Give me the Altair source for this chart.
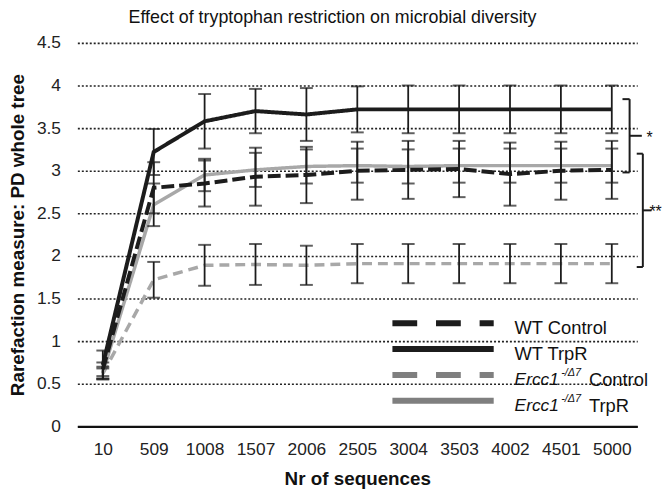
import altair as alt
import pandas as pd

# ---------------- data ----------------
seq_labels = ["10", "509", "1008", "1507", "2006", "2505", "3004", "3503", "4002", "4501", "5000"]

wt_control = [0.67, 2.80, 2.85, 2.93, 2.95, 3.00, 3.01, 3.02, 2.96, 3.00, 3.01]
wt_control_err = [0.08, 0.30, 0.27, 0.34, 0.33, 0.34, 0.34, 0.33, 0.37, 0.34, 0.34]
wt_trpr = [0.72, 3.22, 3.58, 3.70, 3.66, 3.72, 3.72, 3.72, 3.72, 3.72, 3.72]
wt_trpr_err = [0.17, 0.27, 0.32, 0.26, 0.31, 0.27, 0.28, 0.28, 0.28, 0.28, 0.28]
ercc_control = [0.62, 1.72, 1.89, 1.90, 1.89, 1.91, 1.91, 1.91, 1.91, 1.91, 1.91]
ercc_control_err = [0.06, 0.21, 0.24, 0.24, 0.23, 0.23, 0.23, 0.23, 0.23, 0.23, 0.23]
ercc_trpr = [0.63, 2.60, 2.95, 3.01, 3.05, 3.06, 3.05, 3.06, 3.06, 3.06, 3.06]
ercc_trpr_err = [0.07, 0.25, 0.19, 0.20, 0.20, 0.20, 0.20, 0.20, 0.20, 0.20, 0.20]

y_ticks = [0, 0.5, 1, 1.5, 2, 2.5, 3, 3.5, 4, 4.5]

# significance brackets: (top, bottom, label)
bracket_tops = [3.84, 3.20]
bracket_bottoms = [2.98, 1.87]
bracket_labels = ["*", "**"]

title_text = "Effect of tryptophan restriction on microbial diversity"
x_title = "Nr of sequences"
y_title = "Rarefaction measure: PD whole tree"

# ---------------- styles ----------------
FONT = "Liberation Sans"
BLACK = "#1c1c1c"
GRAY = "#a8a8a8"
LEG_GRAY = "#7f7f7f"

series = [
    # name, values, errs, color, dash, width
    ("Ercc1 Control", ercc_control, ercc_control_err, GRAY, [10, 6], 3.5),
    ("Ercc1 TrpR", ercc_trpr, ercc_trpr_err, GRAY, [1, 0], 3.5),
    ("WT Control", wt_control, wt_control_err, BLACK, [13, 5], 4),
    ("WT TrpR", wt_trpr, wt_trpr_err, BLACK, [1, 0], 4),
]

label_expr = "[" + ",".join("'" + s + "'" for s in seq_labels) + "][datum.value]"

x_scale = alt.Scale(domain=[-0.5, 10.5], nice=False, zero=False)
y_scale = alt.Scale(domain=[0, 4.5], nice=False, zero=True)

x_axis = alt.Axis(
    values=list(range(len(seq_labels))), labelExpr=label_expr, title=x_title,
    grid=False, ticks=False, domain=True, domainColor="#111", domainWidth=2.5,
    labelFont=FONT, labelFontSize=17.5, labelColor="#222", labelPadding=14,
    titleFont=FONT, titleFontSize=19, titleFontWeight="bold", titleColor="#111",
    titlePadding=12,
)
y_axis = alt.Axis(
    values=y_ticks, labelExpr="toString(datum.value)", title=y_title,
    grid=True, gridColor="#222", gridDash=[2, 2], gridWidth=1.6,
    ticks=False, domain=False,
    labelFont=FONT, labelFontSize=17.5, labelColor="#222", labelPadding=17,
    titleFont=FONT, titleFontSize=19, titleFontWeight="bold", titleColor="#111",
    titlePadding=9,
)


def X(field="x"):
    return alt.X(f"{field}:Q", scale=x_scale, axis=x_axis)


def Y(field="y"):
    return alt.Y(f"{field}:Q", scale=y_scale, axis=y_axis)


layers = []

# lines
for name, vals, errs, color, dash, width in series:
    df = pd.DataFrame({
        "x": list(range(len(vals))), "y": vals,
        "lo": [v - e for v, e in zip(vals, errs)],
        "hi": [v + e for v, e in zip(vals, errs)],
    })
    layers.append(
        alt.Chart(df).mark_line(color=color, strokeDash=dash, strokeWidth=width, strokeCap="butt")
        .encode(x=X(), y=Y())
    )

# error bars
for name, vals, errs, color, dash, width in series:
    df = pd.DataFrame({
        "x": list(range(len(vals))), "y": vals,
        "lo": [v - e for v, e in zip(vals, errs)],
        "hi": [v + e for v, e in zip(vals, errs)],
    })
    layers.append(
        alt.Chart(df).mark_rule(color=BLACK, strokeWidth=1.8)
        .encode(x=X(), y=Y("lo"), y2="hi:Q")
    )
    for end in ["lo", "hi"]:
        layers.append(
            alt.Chart(df).mark_tick(color=BLACK, orient="horizontal", size=13, thickness=2)
            .encode(x=X(), y=Y(end))
        )

# ---------------- custom legend ----------------
leg_y0, leg_step = 1.21, 0.303
leg_x1, leg_x2, leg_tx = 5.69, 7.68, 8.09
legend_rows = [
    ("WT Control", BLACK, [25, 19]),
    ("WT TrpR", BLACK, [1, 0]),
    ("Ercc1 Control", LEG_GRAY, [25, 19]),
    ("Ercc1 TrpR", LEG_GRAY, [1, 0]),
]
for i, (lab, color, dash) in enumerate(legend_rows):
    yy = leg_y0 - i * leg_step
    ldf = pd.DataFrame({"x": [leg_x1], "x2": [leg_x2], "y": [yy]})
    layers.append(
        alt.Chart(ldf).mark_rule(color=color, strokeDash=dash, strokeWidth=6, strokeCap="butt")
        .encode(x=X(), x2="x2:Q", y=Y())
    )
    tdf = pd.DataFrame({"x": [leg_tx], "y": [yy]})
    if lab.startswith("Ercc1"):
        rest = lab.split(" ", 1)[1]
        layers.append(
            alt.Chart(tdf).mark_text(text="Ercc1", font=FONT, fontSize=17.5, fontStyle="italic",
                                     align="left", baseline="middle", dy=5, color="#111")
            .encode(x=X(), y=Y())
        )
        layers.append(
            alt.Chart(tdf).mark_text(text="-/\u03947", font=FONT, fontSize=11, fontStyle="italic",
                                     align="left", baseline="middle", dx=47, dy=-2, color="#111")
            .encode(x=X(), y=Y())
        )
        layers.append(
            alt.Chart(tdf).mark_text(text=rest, font=FONT, fontSize=18.5,
                                     align="left", baseline="middle", dx=75, dy=5, color="#111")
            .encode(x=X(), y=Y())
        )
    else:
        layers.append(
            alt.Chart(tdf).mark_text(text=lab, font=FONT, fontSize=18.5,
                                     align="left", baseline="middle", dy=5, color="#111")
            .encode(x=X(), y=Y())
        )

# ---------------- significance brackets ----------------
br_x = [10.35, 10.61]
br_hook = [0.14, 0.12]
br_tick = [0.24, 0.17]
br_text_x = [10.68, 10.74]
for i in range(len(bracket_tops)):
    top, bot = bracket_tops[i], bracket_bottoms[i]
    mid = (top + bot) / 2
    vx = br_x[i]
    vdf = pd.DataFrame({"x": [vx], "y": [bot], "y2": [top]})
    layers.append(
        alt.Chart(vdf).mark_rule(color=BLACK, strokeWidth=2)
        .encode(x=X(), y=Y(), y2="y2:Q")
    )
    hdf = pd.DataFrame({
        "x": [vx - br_hook[i], vx - br_hook[i], vx],
        "x2": [vx, vx, vx + br_tick[i]],
        "y": [top, bot, mid],
    })
    layers.append(
        alt.Chart(hdf).mark_rule(color=BLACK, strokeWidth=2)
        .encode(x=X(), x2="x2:Q", y=Y())
    )
    sdf = pd.DataFrame({"x": [br_text_x[i]], "y": [mid]})
    layers.append(
        alt.Chart(sdf).mark_text(text=bracket_labels[i], font=FONT, fontSize=16,
                                 align="left", baseline="middle", dy=2, color="#111")
        .encode(x=X(), y=Y())
    )

chart = alt.layer(*layers).properties(
    width=565,
    height=387,
    title=alt.TitleParams(title_text, font=FONT, fontSize=18, fontWeight="normal",
                          color="#111", anchor="middle", dx=-25, offset=7),
    autosize=alt.AutoSizeParams(type="none"),
    padding={"left": 70, "top": 33, "right": 26, "bottom": 64},
).configure_view(stroke=None)

chart.save("out.html", embed_options={"renderer": "svg", "actions": False})
